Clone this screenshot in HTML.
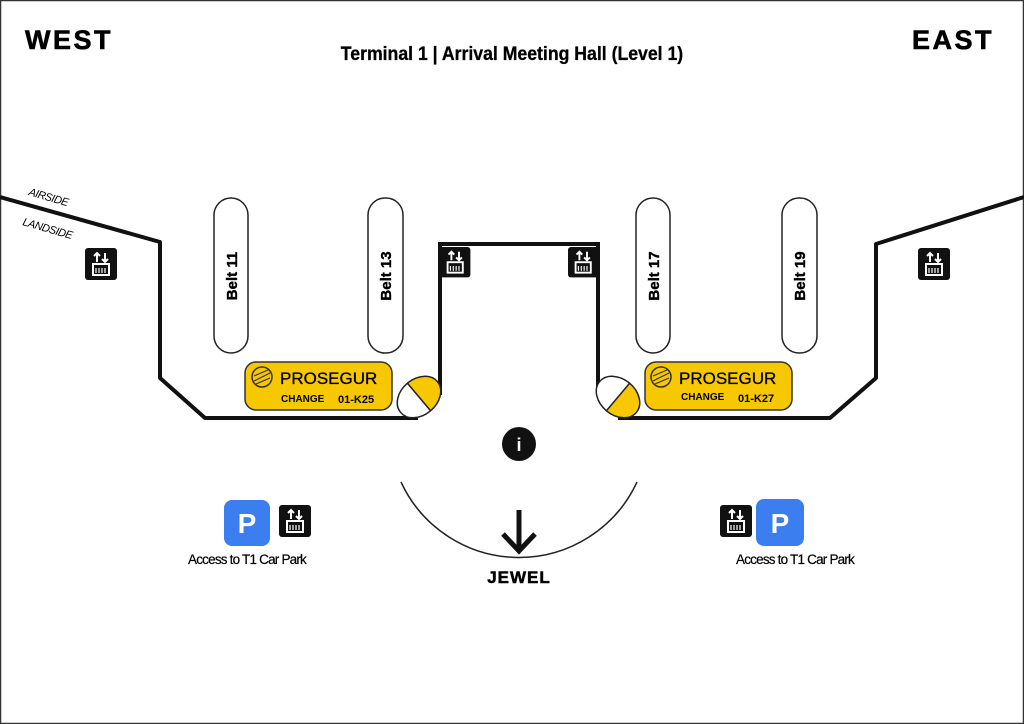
<!DOCTYPE html>
<html><head><meta charset="utf-8"><style>
html,body{margin:0;padding:0;background:#fff}
svg{display:block}
text{font-family:"Liberation Sans",Arial,sans-serif}
</style></head><body>
<svg width="1024" height="724" viewBox="0 0 1024 724" xmlns="http://www.w3.org/2000/svg">
<defs>
<g id="lift">
<rect x="0" y="0" width="32" height="32" rx="3" fill="#111"/>
<path d="M9 8 L12 5 L15 8 M12 5 V14" stroke="#fff" stroke-width="2" fill="none"/>
<path d="M17 11 L20 14 L23 11 M20 5 V14" stroke="#fff" stroke-width="2" fill="none"/>
<rect x="8" y="16" width="16" height="11" fill="none" stroke="#fff" stroke-width="2"/>
<path d="M11 20 V25 M14 20 V25 M17 20 V25 M20 20 V25" stroke="#fff" stroke-width="1.2"/>
</g>
<g id="coin">
<circle cx="0" cy="0" r="10" fill="none" stroke="#333" stroke-width="1.5"/>
<path d="M-8 4 L8 -4 M-8 -1 L6 -7 M-6 7 L8 1" stroke="#333" stroke-width="1.2" fill="none"/>
</g>
</defs>
<rect x="0.5" y="0.5" width="1023" height="723" fill="#fff" stroke="#333" stroke-width="1.5"/>

<text x="25" y="49" font-size="27" font-weight="bold" letter-spacing="2.5" stroke="#000" stroke-width="0.6">WEST</text>
<text x="912" y="49" font-size="27" font-weight="bold" letter-spacing="2.5" stroke="#000" stroke-width="0.6">EAST</text>
<text x="512" y="60" font-size="19" font-weight="bold" text-anchor="middle" stroke="#000" stroke-width="0.3" transform="translate(512 0) scale(0.93 1) translate(-512 0)">Terminal 1 | Arrival Meeting Hall (Level 1)</text>

<text x="28" y="195" font-size="11" font-style="italic" transform="rotate(16 28 195)" letter-spacing="-0.5">AIRSIDE</text>
<text x="22" y="225" font-size="11" font-style="italic" transform="rotate(16 22 225)" letter-spacing="-0.5">LANDSIDE</text>

<path d="M0 197 L160 242 L160 378 L205 418 L418 418" fill="none" stroke="#111" stroke-width="4" stroke-linejoin="round"/>
<path d="M440 395 L440 244 L598 244 L598 395" fill="none" stroke="#111" stroke-width="4"/>
<path d="M618 418 L830 418 L876 378 L876 244 L1024 197" fill="none" stroke="#111" stroke-width="4" stroke-linejoin="round"/>

<g fill="#fff" stroke="#222" stroke-width="1.5">
<rect x="214" y="198" width="34" height="155" rx="17"/>
<rect x="368" y="198" width="35" height="155" rx="17"/>
<rect x="636" y="198" width="34" height="155" rx="17"/>
<rect x="782" y="198" width="35" height="155" rx="17"/>
</g>
<g font-size="15" font-weight="bold" text-anchor="middle" stroke="#000" stroke-width="0.4">
<text transform="translate(237 276) rotate(-90)">Belt 11</text>
<text transform="translate(391 276) rotate(-90)">Belt 13</text>
<text transform="translate(659 276) rotate(-90)">Belt 17</text>
<text transform="translate(805 276) rotate(-90)">Belt 19</text>
</g>

<rect x="245" y="362" width="147" height="48" rx="11" fill="#f7c800" stroke="#333" stroke-width="1.5"/>
<use href="#coin" x="262" y="377"/>
<text x="280" y="384" font-size="17" stroke="#000" stroke-width="0.3">PROSEGUR</text>
<text x="281" y="402" font-size="10" font-weight="bold">CHANGE</text>
<text x="338" y="403" font-size="11" font-weight="bold">01-K25</text>
<rect x="645" y="362" width="147" height="48" rx="11" fill="#f7c800" stroke="#333" stroke-width="1.5"/>
<use href="#coin" x="661" y="377"/>
<text x="679" y="384" font-size="17" stroke="#000" stroke-width="0.3">PROSEGUR</text>
<text x="681" y="400" font-size="10" font-weight="bold">CHANGE</text>
<text x="738" y="402" font-size="11" font-weight="bold">01-K27</text>

<g transform="translate(419 397) rotate(-40)">
<clipPath id="c1"><ellipse cx="0" cy="0" rx="24" ry="18"/></clipPath>
<ellipse cx="0" cy="0" rx="24" ry="18" fill="#fff"/>
<rect x="0" y="-20" width="26" height="40" fill="#f7c800" clip-path="url(#c1)"/>
<line x1="0" y1="-18" x2="0" y2="18" stroke="#222" stroke-width="1.5"/>
<ellipse cx="0" cy="0" rx="24" ry="18" fill="none" stroke="#222" stroke-width="1.5"/>
</g>
<g transform="translate(618 397) rotate(40)">
<clipPath id="c2"><ellipse cx="0" cy="0" rx="24" ry="18"/></clipPath>
<ellipse cx="0" cy="0" rx="24" ry="18" fill="#fff"/>
<rect x="0" y="-20" width="26" height="40" fill="#f7c800" clip-path="url(#c2)"/>
<line x1="0" y1="-18" x2="0" y2="18" stroke="#222" stroke-width="1.5"/>
<ellipse cx="0" cy="0" rx="24" ry="18" fill="none" stroke="#222" stroke-width="1.5"/>
</g>

<use href="#lift" x="85" y="248"/>
<use href="#lift" x="440" y="247" transform="translate(440 247) scale(0.95) translate(-440 -247)"/>
<use href="#lift" x="568" y="247" transform="translate(568 247) scale(0.95) translate(-568 -247)"/>
<use href="#lift" x="918" y="248"/>
<use href="#lift" x="279" y="505"/>
<use href="#lift" x="720" y="505"/>

<circle cx="519" cy="444" r="17" fill="#111"/>
<text x="519" y="451" font-size="18" font-weight="bold" fill="#fff" text-anchor="middle">i</text>

<path d="M401 482 A130 130 0 0 0 637 482" fill="none" stroke="#222" stroke-width="1.5"/>
<path d="M519 510 V550 M503 534 L519 551 L535 534" fill="none" stroke="#111" stroke-width="5"/>
<text x="519" y="583" font-size="17" font-weight="bold" text-anchor="middle" letter-spacing="1" stroke="#000" stroke-width="0.5">JEWEL</text>

<rect x="224" y="500" width="46" height="46" rx="8" fill="#3a7ef0"/>
<text x="247" y="533" font-size="28" font-weight="bold" fill="#fff" text-anchor="middle">P</text>
<rect x="756" y="499" width="48" height="47" rx="8" fill="#3a7ef0"/>
<text x="780" y="533" font-size="28" font-weight="bold" fill="#fff" text-anchor="middle">P</text>
<text x="247" y="564" font-size="13.5" text-anchor="middle" letter-spacing="-0.8" stroke="#000" stroke-width="0.2">Access to T1 Car Park</text>
<text x="795" y="564" font-size="13.5" text-anchor="middle" letter-spacing="-0.8" stroke="#000" stroke-width="0.2">Access to T1 Car Park</text>
</svg>
</body></html>
